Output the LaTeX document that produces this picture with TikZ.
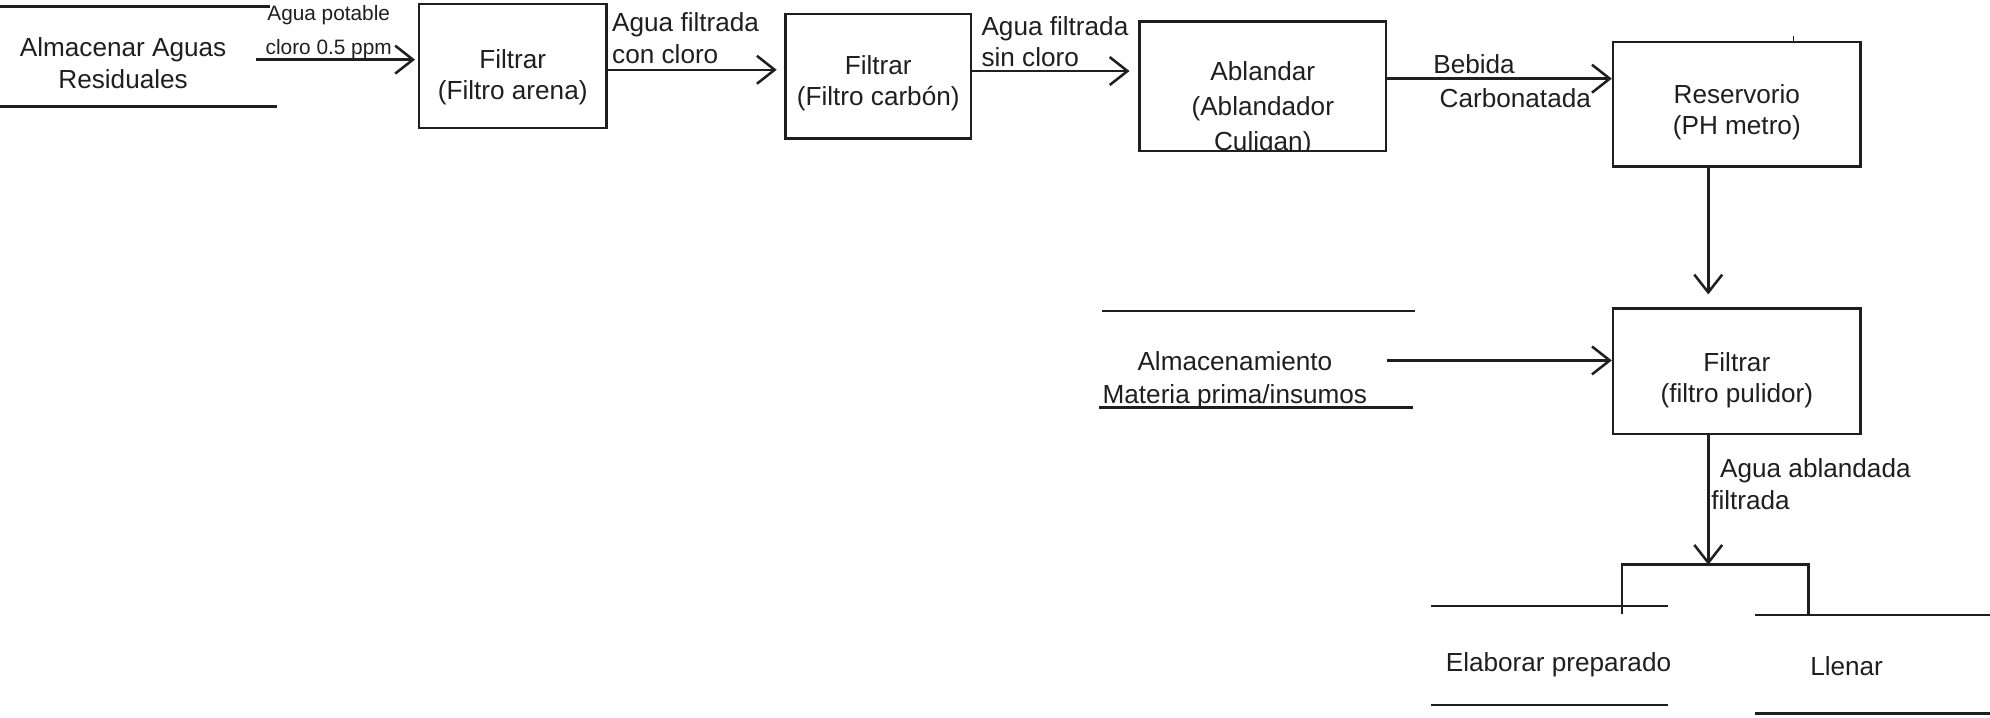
\documentclass[tikz,border=0pt]{standalone}
\usepackage{fontspec}
\setmainfont{Liberation Sans}
\usetikzlibrary{arrows.meta}
\begin{document}
\begin{tikzpicture}[x=0.5pt,y=-0.5pt,
  ink/.style={draw=black!88, line width=1pt},
  proc/.style={ink, rectangle, inner sep=0pt},
  store/.style={rectangle, inner sep=0pt},
  txt/.style={font=\fontsize{10.3}{12.3}\selectfont, text=black!88, align=center, inner sep=0pt},
  small/.style={font=\fontsize{8.2}{13.5}\selectfont, text=black!88, align=center, inner sep=0pt},
  flow/.style={ink, -{Straight Barb[length=7pt,width=11pt,line width=1pt]}},
  rule/.style={ink}]
\useasboundingbox (0,0) rectangle (1568,565);

% ---------- process boxes ----------
\node[proc, minimum width=74pt, minimum height=49pt] (b1) at (404,52) {};
\node[txt] (t1) at ([yshift=-4.3pt]b1.center) {Filtrar\\(Filtro arena)};

\node[proc, minimum width=73pt, minimum height=49pt] (b2) at (692,60) {};
\node[txt] (t2) at ([yshift=-2.7pt]b2.center) {Filtrar\\(Filtro carb\'on)};

\begin{scope}
  \clip (898,17) rectangle (1092,119);
  \node[txt, font=\fontsize{10.3}{13.75}\selectfont] (t3) at (995,86) {Ablandar\\(Ablandador\\Culigan)};
\end{scope}
\node[proc, minimum width=97pt, minimum height=51pt] (b3) at (995,68) {};

\node[proc, minimum width=97.5pt, minimum height=49pt] (b4) at (1368.5,82) {};
\node[txt] (t4) at ([yshift=-3.3pt]b4.center) {Reservorio\\(PH metro)};
\draw[ink, line width=0.6pt] (1413,28) -- (b4.north -| 1413,0);

\node[proc, minimum width=97.5pt, minimum height=49.5pt] (b5) at (1368.5,292.5) {};
\node[txt] (t5) at ([yshift=-3.5pt]b5.center) {Filtrar\\(filtro pulidor)};

% ---------- stores (open rectangles) ----------
\node[txt, font=\fontsize{10.3}{12.5}\selectfont] (s1) at (97,49.5) {Almacenar Aguas\\Residuales};
\draw[rule] (0,5) -- (213,5) (0,84) -- (218,84);

\node[txt, font=\fontsize{10.3}{13}\selectfont] (s2) at (973,300) {Almacenamiento\\Materia prima/insumos};
\draw[rule] (868,245) -- (1115,245) (866,321) -- (1113,321);

\node[store, minimum width=93pt, minimum height=38.5pt] (s3) at (1221,516.5) {};
\node[txt] (t6) at (1228,524) {Elaborar preparado};
\draw[rule] (s3.north west) -- (s3.north east) (s3.south west) -- (s3.south east);

\node[store, minimum width=92.5pt, minimum height=38.5pt] (s4) at (1475.5,523.5) {};
\node[txt] (t7) at (1455,525) {Llenar};
\draw[rule] (s4.north west) -- (s4.north east) (s4.south west) -- (s4.south east);

% ---------- flows ----------
\coordinate (s1o) at (202,47);
\draw[flow, shorten >=1pt] (s1o) -- (s1o -| b1.west);
\node[small] (l1) at (259,25.5) {Agua potable\\cloro 0.5 ppm};

\draw[flow, shorten >=3pt] (b1.east |- 0,55) -- (b2.west |- 0,55);
\node[txt, align=left, anchor=west] (l2) at (482,30) {Agua filtrada\\con cloro};

\draw[flow, shorten >=3.5pt] (b2.east |- 0,56) -- (b3.west |- 0,56);
\node[txt, align=left, anchor=west] (l3) at (773,33) {Agua filtrada\\sin cloro};

\draw[flow] (b3.east |- 0,62) -- (b4.west |- 0,62);
\node[txt, align=left, anchor=west, font=\fontsize{10.3}{13.5}\selectfont] (l4) at (1129,64) {Bebida\\\hspace*{2.5pt}Carbonatada};

\coordinate (vx) at (1346,0);
\draw[flow, shorten >=5pt] (b4.south -| vx) -- (b5.north -| vx);

\coordinate (s2o) at (1093,284);
\draw[flow] (s2o) -- (s2o -| b5.west);

\coordinate (br) at (1346,445);
\draw[flow] (b5.south -| vx) -- (br);
\node[txt, align=left, anchor=west, font=\fontsize{10.3}{12.5}\selectfont] (l5) at (1348,381.5) {\hspace*{3.5pt}Agua ablandada\\filtrada};

% split towards the two stores
\coordinate (bl) at (1278,445);
\coordinate (bR) at (1425,445);
\draw[rule] (bl |- 0,484) -- (bl) -- (bR) -- (bR |- s4.north);

\end{tikzpicture}
\end{document}
